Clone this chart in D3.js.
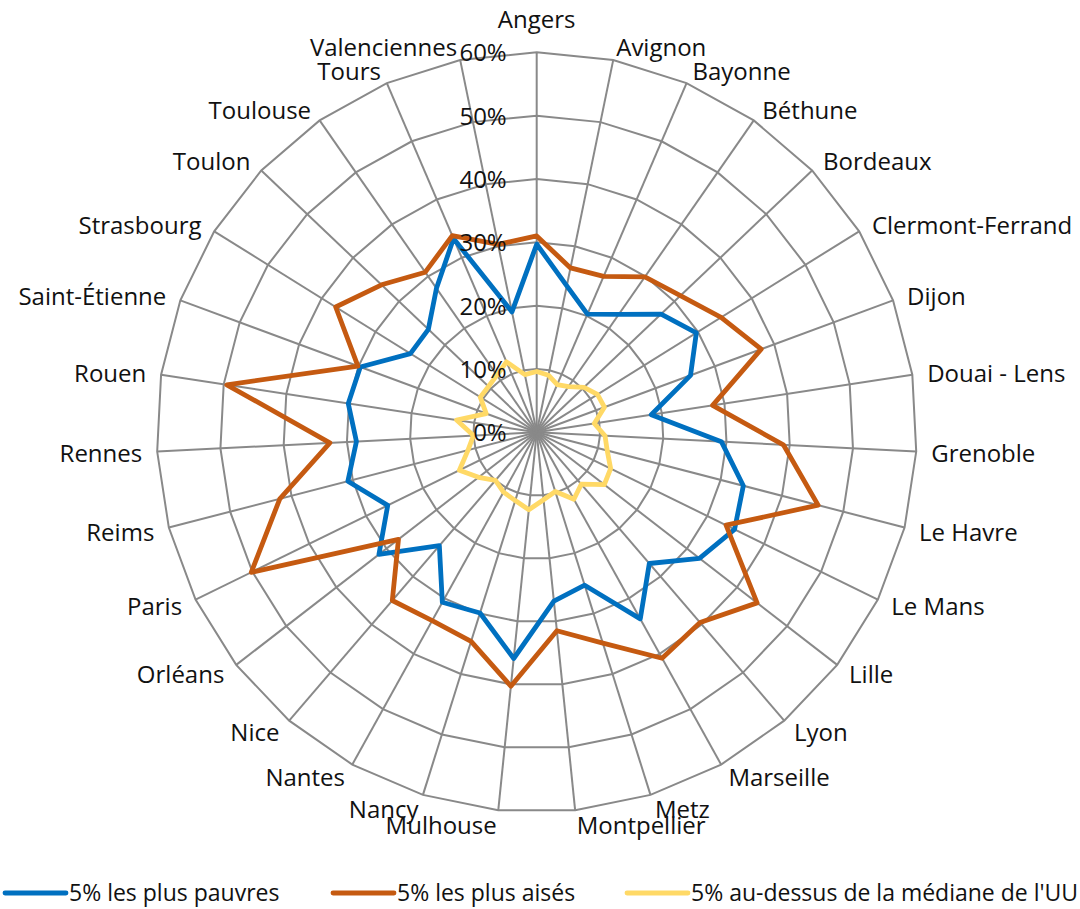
<!DOCTYPE html>
<html>
<head>
<meta charset="utf-8">
<script src="https://cdn.jsdelivr.net/npm/d3@7"></script>
<style>
  body { margin: 0; background: #fff; }
  svg { display: block; }
  text { font-family: "Open Sans", Lato, sans-serif; fill: #111; }
</style>
</head>
<body>
<svg id="chart" width="1080" height="909"></svg>
<script>
// Unités urbaines, dans l'ordre des axes (sens horaire depuis le haut)
const categories = [
  "Angers", "Avignon", "Bayonne", "Béthune", "Bordeaux", "Clermont-Ferrand",
  "Dijon", "Douai - Lens", "Grenoble", "Le Havre", "Le Mans", "Lille", "Lyon",
  "Marseille", "Metz", "Montpellier", "Mulhouse", "Nancy", "Nantes", "Nice",
  "Orléans", "Paris", "Reims", "Rennes", "Rouen", "Saint-Étienne", "Strasbourg",
  "Toulon", "Toulouse", "Tours", "Valenciennes"
];

// Valeurs en %
const plusPauvres = [
  29.7, 23.6, 20.3, 22.7, 27.1, 29.7, 25.9, 18.3, 29.2, 33.7, 34.8, 32.5, 27.3,
  33.7, 25.3, 26.8, 35.9, 29.9, 30.7, 23.6, 31.5, 26.2, 30.8, 28.5, 30.1, 29.7,
  23.5, 23.6, 27.7, 33.3, 19.4
];
const plusAises = [
  31.0, 26.5, 26.8, 29.9, 31.3, 34.3, 37.8, 28.1, 39.0, 45.9, 33.3, 44.0, 39.6,
  40.8, 34.9, 31.5, 40.3, 34.6, 34.0, 35.0, 27.6, 50.2, 41.9, 32.7, 49.5, 30.1,
  37.4, 33.8, 30.8, 33.8, 30.3
];
const auDessusMediane = [
  9.6, 9.2, 8.2, 8.8, 10.3, 11.3, 11.4, 9.2, 10.8, 11.5, 13.0, 13.5, 10.8,
  12.1, 9.8, 10.7, 12.3, 11.3, 10.8, 10.0, 11.6, 13.6, 11.2, 10.0, 12.8, 8.5,
  10.5, 10.5, 11.0, 12.1, 9.3
];

const tickValues = [0, 10, 20, 30, 40, 50, 60];
const seriesNames = ["5% les plus pauvres", "5% les plus aisés", "5% au-dessus de la médiane de l'UU"];
const seriesColors = ["#0070C0", "#C55A11", "#FFD966"];

const cx = 536.7, cy = 432.3, R = 380;
const fontSize = 24;
const svg = d3.select("#chart");
const n = categories.length;

const angle = d3.scaleLinear().domain([0, n]).range([0, 2 * Math.PI]);
const r = d3.scaleLinear().domain([0, 60]).range([0, R]);

const radial = d3.lineRadial()
  .angle((d, i) => angle(i))
  .radius(d => r(d))
  .curve(d3.curveLinearClosed);

const g = svg.append("g").attr("transform", `translate(${cx},${cy})`);

// Grille polygonale
const gridColor = "#898989";
g.append("g").selectAll("path")
  .data(tickValues.filter(t => t > 0))
  .join("path")
  .attr("d", t => radial(categories.map(() => t)))
  .attr("fill", "none")
  .attr("stroke", gridColor)
  .attr("stroke-width", 2);

// Rayons
g.append("g").selectAll("line")
  .data(categories)
  .join("line")
  .attr("x1", 0).attr("y1", 0)
  .attr("x2", (d, i) => r(60) * Math.sin(angle(i)))
  .attr("y2", (d, i) => -r(60) * Math.cos(angle(i)))
  .attr("stroke", gridColor)
  .attr("stroke-width", 2);

// Séries
const seriesData = [plusPauvres, plusAises, auDessusMediane];
g.append("g").selectAll("path")
  .data(seriesData)
  .join("path")
  .attr("d", d => radial(d))
  .attr("fill", "none")
  .attr("stroke", (d, i) => seriesColors[i])
  .attr("stroke-width", 4.8)
  .attr("stroke-linejoin", "round");

// Graduations de l'axe radial
g.append("g").selectAll("text")
  .data(tickValues)
  .join("text")
  .attr("x", -30)
  .attr("y", t => -r(t) + 9)
  .attr("text-anchor", "end")
  .attr("font-size", fontSize)
  .text(t => t + "%");

// Libellés des catégories
const labelG = g.append("g");
categories.forEach((name, i) => {
  const a = angle(i);
  const s = Math.sin(a), c = Math.cos(a);
  const px = r(60) * s, py = -r(60) * c;
  const t = labelG.append("text").attr("font-size", fontSize).text(name);
  if (Math.abs(s) < 0.05) {
    t.attr("x", px).attr("y", py - 24).attr("text-anchor", "middle");
  } else {
    const gap = 15 * Math.abs(s);
    t.attr("x", s > 0 ? px + gap : px - gap)
     .attr("y", py - c * 14 + 1)
     .attr("dy", "0.36em")
     .attr("text-anchor", s > 0 ? "start" : "end");
  }
  // garder le libellé dans la zone du graphique
  const b = t.node().getBBox();
  const left = b.x + cx, right = b.x + b.width + cx;
  if (left < 16) t.attr("x", +t.attr("x") + (16 - left));
  else if (right > 1073) t.attr("x", +t.attr("x") - (right - 1073));
});

// Légende
const legendX = [5, 333, 627];
const legend = svg.append("g");
seriesNames.forEach((name, i) => {
  legend.append("line")
    .attr("x1", legendX[i]).attr("x2", legendX[i] + 61)
    .attr("y1", 893).attr("y2", 893)
    .attr("stroke", seriesColors[i])
    .attr("stroke-width", 4.8)
    .attr("stroke-linecap", "round");
  legend.append("text")
    .attr("x", legendX[i] + 64)
    .attr("y", 901)
    .attr("font-size", 23)
    .text(name);
});
</script>
</body>
</html>
